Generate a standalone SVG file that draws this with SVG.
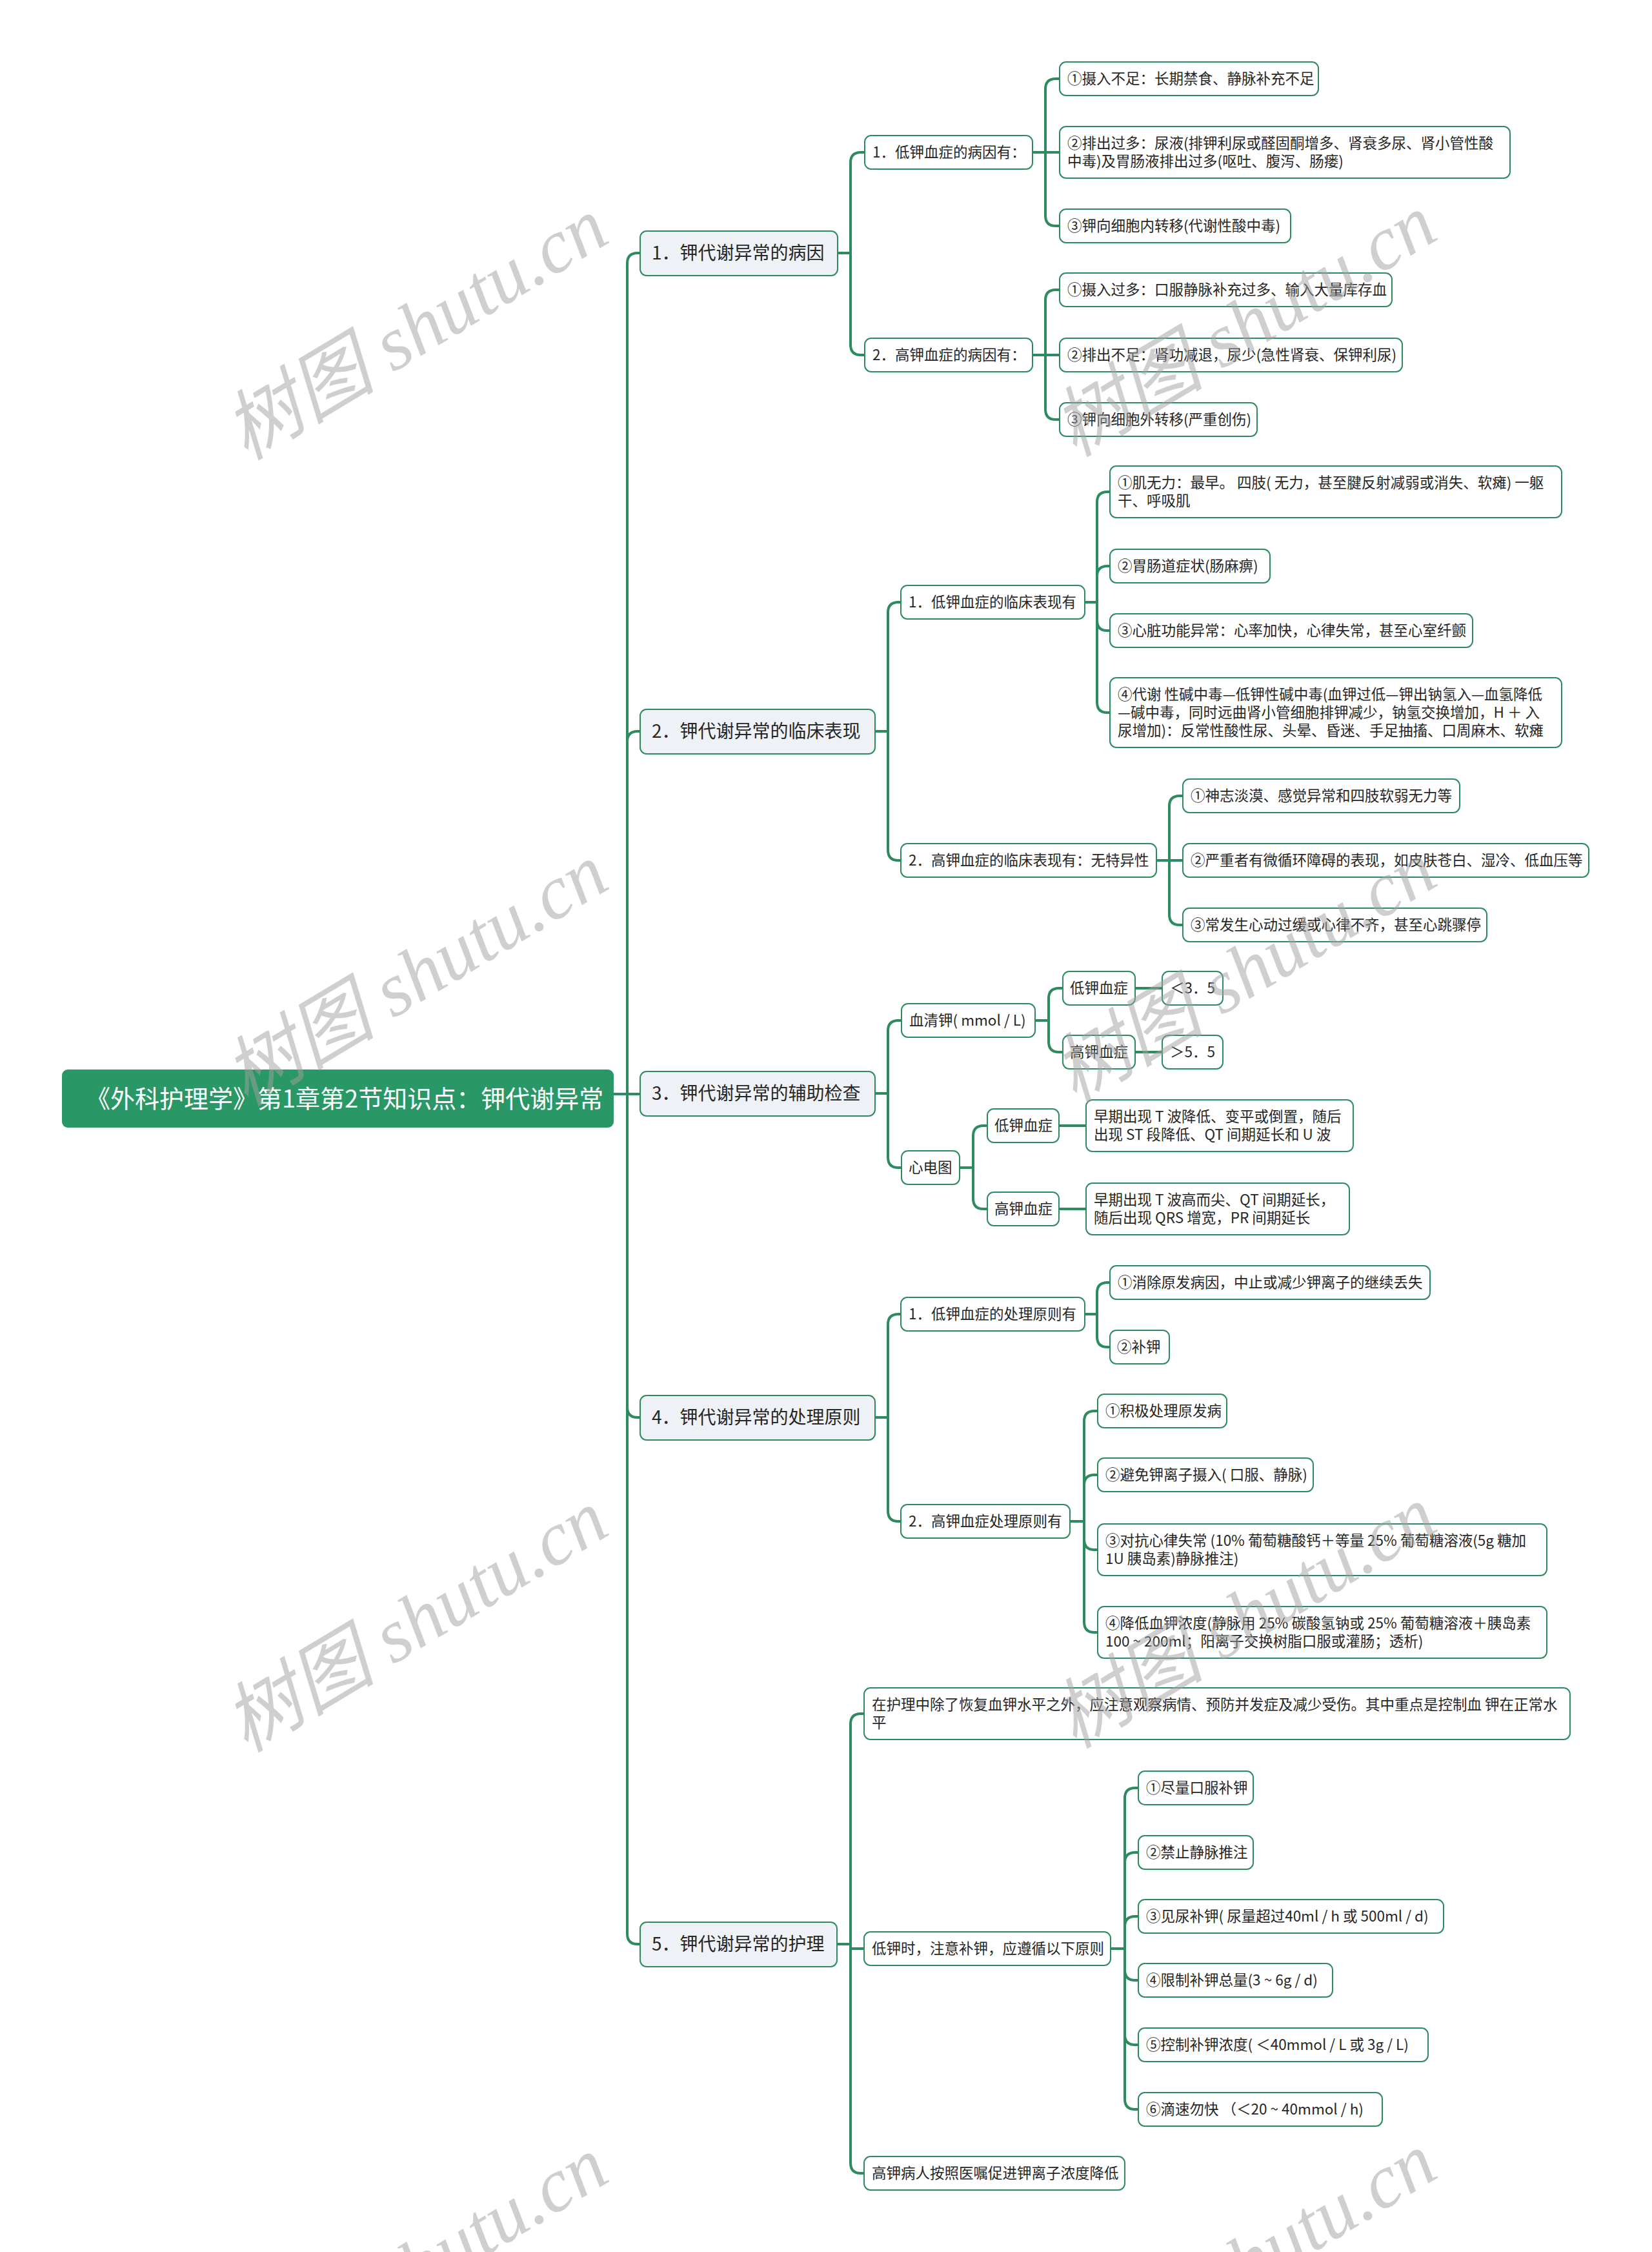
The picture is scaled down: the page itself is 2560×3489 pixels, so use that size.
<svg xmlns="http://www.w3.org/2000/svg" width="2560" height="3489" viewBox="0 0 2560 3489">
<style>
.n rect{fill:#ffffff;stroke:#2e8b5f;stroke-width:2}
.l1 rect{fill:#eef1f5}
.n text{font-family:"Noto Sans CJK SC","Liberation Sans",sans-serif;font-size:22.5px;fill:#262626}
.l1 text{font-size:28px}
#root rect{fill:#2a9866;stroke:none}
#root text{font-size:38px;fill:#ffffff}
.c path{fill:none;stroke:#2e8b5f;stroke-width:4;stroke-linecap:round;stroke-linejoin:round}
.wm text{font-family:"Liberation Serif","Noto Sans CJK SC",serif;font-style:italic;font-size:118px;fill:#a0a0a0;opacity:0.5}
</style>
<rect width="2560" height="3489" fill="#ffffff"/>
<g class="c" id="connectors">
<path d="M951 1695 H972 V408 Q972 392 988 392 H992"/>
<path d="M951 1695 H972 V1149 Q972 1133 988 1133 H992"/>
<path d="M951 1695 H992"/>
<path d="M951 1695 H972 V2180 Q972 2196 988 2196 H992"/>
<path d="M951 1695 H972 V2996 Q972 3012 988 3012 H992"/>
<path d="M1298 392 H1318 V252 Q1318 236 1334 236 H1340"/>
<path d="M1298 392 H1318 V534 Q1318 550 1334 550 H1340"/>
<path d="M1600 236 H1620 V138 Q1620 122 1636 122 H1642"/>
<path d="M1600 236 H1642"/>
<path d="M1600 236 H1620 V334 Q1620 350 1636 350 H1642"/>
<path d="M1600 550 H1620 V465 Q1620 449 1636 449 H1642"/>
<path d="M1600 550 H1642"/>
<path d="M1600 550 H1620 V634 Q1620 650 1636 650 H1642"/>
<path d="M1356 1133 H1376 V949 Q1376 933 1392 933 H1396"/>
<path d="M1356 1133 H1376 V1317 Q1376 1333 1392 1333 H1396"/>
<path d="M1681 933 H1700 V778 Q1700 762 1716 762 H1720"/>
<path d="M1681 933 H1700 V893 Q1700 877 1716 877 H1720"/>
<path d="M1681 933 H1700 V961 Q1700 977 1716 977 H1720"/>
<path d="M1681 933 H1700 V1088 Q1700 1104 1716 1104 H1720"/>
<path d="M1792 1333 H1812 V1249 Q1812 1233 1828 1233 H1833"/>
<path d="M1792 1333 H1833"/>
<path d="M1792 1333 H1812 V1417 Q1812 1433 1828 1433 H1833"/>
<path d="M1356 1694 H1376 V1597 Q1376 1581 1392 1581 H1397"/>
<path d="M1356 1694 H1376 V1793 Q1376 1809 1392 1809 H1397"/>
<path d="M1604 1581 H1625 V1547 Q1625 1531 1641 1531 H1647"/>
<path d="M1604 1581 H1625 V1614 Q1625 1630 1641 1630 H1647"/>
<path d="M1759 1531 H1801"/>
<path d="M1759 1630 H1801"/>
<path d="M1487 1809 H1508 V1760 Q1508 1744 1524 1744 H1530"/>
<path d="M1487 1809 H1508 V1857 Q1508 1873 1524 1873 H1530"/>
<path d="M1641 1744 H1683"/>
<path d="M1641 1873 H1683"/>
<path d="M1356 2196 H1376 V2052 Q1376 2036 1392 2036 H1396"/>
<path d="M1356 2196 H1376 V2341 Q1376 2357 1392 2357 H1396"/>
<path d="M1681 2036 H1700 V2003 Q1700 1987 1716 1987 H1720"/>
<path d="M1681 2036 H1700 V2071 Q1700 2087 1716 2087 H1720"/>
<path d="M1658 2357 H1680 V2202 Q1680 2186 1696 2186 H1701"/>
<path d="M1658 2357 H1680 V2301 Q1680 2285 1696 2285 H1701"/>
<path d="M1658 2357 H1680 V2385 Q1680 2401 1696 2401 H1701"/>
<path d="M1658 2357 H1680 V2513 Q1680 2529 1696 2529 H1701"/>
<path d="M1297 3012 H1318 V2671 Q1318 2655 1334 2655 H1339"/>
<path d="M1297 3012 H1318 V3019 H1339"/>
<path d="M1297 3012 H1318 V3351 Q1318 3367 1334 3367 H1339"/>
<path d="M1721 3019 H1743 V2786 Q1743 2770 1759 2770 H1764"/>
<path d="M1721 3019 H1743 V2886 Q1743 2870 1759 2870 H1764"/>
<path d="M1721 3019 H1743 V2985 Q1743 2969 1759 2969 H1764"/>
<path d="M1721 3019 H1743 V3052 Q1743 3068 1759 3068 H1764"/>
<path d="M1721 3019 H1743 V3152 Q1743 3168 1759 3168 H1764"/>
<path d="M1721 3019 H1743 V3252 Q1743 3268 1759 3268 H1764"/>
</g>
<g id="root" class="n"><rect x="96" y="1657" width="855" height="90" rx="9"/><text x="133" y="1716">《外科护理学》第1章第2节知识点：钾代谢异常</text></g>
<g id="b1" class="n l1"><rect x="992" y="358" width="306" height="69" rx="10"/><text x="1010" y="402">1．钾代谢异常的病因</text></g>
<g id="b1a" class="n"><rect x="1340" y="210" width="260" height="52" rx="10"/><text x="1352" y="244">1．低钾血症的病因有：</text></g>
<g id="b1b" class="n"><rect x="1340" y="524" width="260" height="52" rx="10"/><text x="1352" y="558">2．高钾血症的病因有：</text></g>
<g id="b1a1" class="n"><rect x="1642" y="96" width="401" height="52" rx="10"/><text x="1654" y="130">①摄入不足：长期禁食、静脉补充不足</text></g>
<g id="b1a2" class="n"><rect x="1642" y="196" width="698" height="80" rx="10"/><text x="1654" y="230">②排出过多：尿液(排钾利尿或醛固酮增多、肾衰多尿、肾小管性酸</text><text x="1654" y="258">中毒)及胃肠液排出过多(呕吐、腹泻、肠瘘)</text></g>
<g id="b1a3" class="n"><rect x="1642" y="324" width="358" height="52" rx="10"/><text x="1654" y="358">③钾向细胞内转移(代谢性酸中毒)</text></g>
<g id="b1b1" class="n"><rect x="1642" y="423" width="515" height="52" rx="10"/><text x="1654" y="457">①摄入过多：口服静脉补充过多、输入大量库存血</text></g>
<g id="b1b2" class="n"><rect x="1642" y="524" width="531" height="52" rx="10"/><text x="1654" y="558">②排出不足：肾功减退，尿少(急性肾衰、保钾利尿)</text></g>
<g id="b1b3" class="n"><rect x="1642" y="624" width="306" height="52" rx="10"/><text x="1654" y="658">③钾向细胞外转移(严重创伤)</text></g>
<g id="b2" class="n l1"><rect x="992" y="1099" width="364" height="69" rx="10"/><text x="1010" y="1143">2．钾代谢异常的临床表现</text></g>
<g id="b2a" class="n"><rect x="1396" y="907" width="285" height="52" rx="10"/><text x="1408" y="941">1．低钾血症的临床表现有</text></g>
<g id="b2b" class="n"><rect x="1396" y="1307" width="396" height="52" rx="10"/><text x="1408" y="1341">2．高钾血症的临床表现有：无特异性</text></g>
<g id="b2a1" class="n"><rect x="1720" y="722" width="700" height="80" rx="10"/><text x="1732" y="756">①肌无力：最早。 四肢( 无力，甚至腱反射减弱或消失、软瘫) 一躯</text><text x="1732" y="784">干、呼吸肌</text></g>
<g id="b2a2" class="n"><rect x="1720" y="851" width="248" height="52" rx="10"/><text x="1732" y="885">②胃肠道症状(肠麻痹)</text></g>
<g id="b2a3" class="n"><rect x="1720" y="951" width="562" height="52" rx="10"/><text x="1732" y="985">③心脏功能异常：心率加快，心律失常，甚至心室纤颤</text></g>
<g id="b2a4" class="n"><rect x="1720" y="1050" width="700" height="108" rx="10"/><text x="1732" y="1084">④代谢 性碱中毒—低钾性碱中毒(血钾过低—钾出钠氢入—血氢降低</text><text x="1732" y="1112">—碱中毒，同时远曲肾小管细胞排钾减少，钠氢交换增加，H ＋ 入</text><text x="1732" y="1140">尿增加)：反常性酸性尿、头晕、昏迷、手足抽搐、口周麻木、软瘫</text></g>
<g id="b2b1" class="n"><rect x="1833" y="1207" width="429" height="52" rx="10"/><text x="1845" y="1241">①神志淡漠、感觉异常和四肢软弱无力等</text></g>
<g id="b2b2" class="n"><rect x="1833" y="1307" width="629" height="52" rx="10"/><text x="1845" y="1341">②严重者有微循环障碍的表现，如皮肤苍白、湿冷、低血压等</text></g>
<g id="b2b3" class="n"><rect x="1833" y="1407" width="471" height="52" rx="10"/><text x="1845" y="1441">③常发生心动过缓或心律不齐，甚至心跳骤停</text></g>
<g id="b3" class="n l1"><rect x="992" y="1660" width="364" height="69" rx="10"/><text x="1010" y="1704">3．钾代谢异常的辅助检查</text></g>
<g id="b3a" class="n"><rect x="1397" y="1555" width="207" height="52" rx="10"/><text x="1409" y="1589">血清钾( mmol / L)</text></g>
<g id="b3b" class="n"><rect x="1397" y="1783" width="90" height="52" rx="10"/><text x="1408" y="1817">心电图</text></g>
<g id="b3a1" class="n"><rect x="1647" y="1505" width="112" height="52" rx="10"/><text x="1658" y="1539">低钾血症</text></g>
<g id="b3a1v" class="n"><rect x="1801" y="1505" width="94" height="52" rx="10"/><text x="1848" y="1539" text-anchor="middle">＜3．5</text></g>
<g id="b3a2" class="n"><rect x="1647" y="1604" width="112" height="52" rx="10"/><text x="1658" y="1638">高钾血症</text></g>
<g id="b3a2v" class="n"><rect x="1801" y="1604" width="94" height="52" rx="10"/><text x="1848" y="1638" text-anchor="middle">＞5．5</text></g>
<g id="b3b1" class="n"><rect x="1530" y="1718" width="111" height="52" rx="10"/><text x="1541" y="1752">低钾血症</text></g>
<g id="b3b1v" class="n"><rect x="1683" y="1704" width="414" height="80" rx="10"/><text x="1695" y="1738">早期出现 T 波降低、变平或倒置，随后</text><text x="1695" y="1766">出现 ST 段降低、QT 间期延长和 U 波</text></g>
<g id="b3b2" class="n"><rect x="1530" y="1847" width="111" height="52" rx="10"/><text x="1541" y="1881">高钾血症</text></g>
<g id="b3b2v" class="n"><rect x="1683" y="1833" width="408" height="80" rx="10"/><text x="1695" y="1867">早期出现 T 波高而尖、QT 间期延长，</text><text x="1695" y="1895">随后出现 QRS 增宽，PR 间期延长</text></g>
<g id="b4" class="n l1"><rect x="992" y="2162" width="364" height="69" rx="10"/><text x="1010" y="2206">4．钾代谢异常的处理原则</text></g>
<g id="b4a" class="n"><rect x="1396" y="2010" width="285" height="52" rx="10"/><text x="1408" y="2044">1．低钾血症的处理原则有</text></g>
<g id="b4b" class="n"><rect x="1396" y="2331" width="262" height="52" rx="10"/><text x="1408" y="2365">2．高钾血症处理原则有</text></g>
<g id="b4a1" class="n"><rect x="1720" y="1961" width="496" height="52" rx="10"/><text x="1732" y="1995">①消除原发病因，中止或减少钾离子的继续丢失</text></g>
<g id="b4a2" class="n"><rect x="1720" y="2061" width="92" height="52" rx="10"/><text x="1731" y="2095">②补钾</text></g>
<g id="b4b1" class="n"><rect x="1701" y="2160" width="200" height="52" rx="10"/><text x="1713" y="2194">①积极处理原发病</text></g>
<g id="b4b2" class="n"><rect x="1701" y="2259" width="334" height="52" rx="10"/><text x="1713" y="2293">②避免钾离子摄入( 口服、静脉)</text></g>
<g id="b4b3" class="n"><rect x="1701" y="2361" width="696" height="80" rx="10"/><text x="1713" y="2395">③对抗心律失常 (10% 葡萄糖酸钙＋等量 25% 葡萄糖溶液(5g 糖加</text><text x="1713" y="2423">1U 胰岛素)静脉推注)</text></g>
<g id="b4b4" class="n"><rect x="1701" y="2489" width="696" height="80" rx="10"/><text x="1713" y="2523">④降低血钾浓度(静脉用 25% 碳酸氢钠或 25% 葡萄糖溶液＋胰岛素</text><text x="1713" y="2551">100 ~ 200ml；阳离子交换树脂口服或灌肠；透析)</text></g>
<g id="b5" class="n l1"><rect x="992" y="2978" width="305" height="69" rx="10"/><text x="1010" y="3022">5．钾代谢异常的护理</text></g>
<g id="b5a" class="n"><rect x="1339" y="2615" width="1094" height="80" rx="10"/><text x="1351" y="2649">在护理中除了恢复血钾水平之外，应注意观察病情、预防并发症及减少受伤。其中重点是控制血 钾在正常水</text><text x="1351" y="2677">平</text></g>
<g id="b5b" class="n"><rect x="1339" y="2993" width="382" height="52" rx="10"/><text x="1351" y="3027">低钾时，注意补钾，应遵循以下原则</text></g>
<g id="b5c" class="n"><rect x="1339" y="3341" width="404" height="52" rx="10"/><text x="1351" y="3375">高钾病人按照医嘱促进钾离子浓度降低</text></g>
<g id="b5b1" class="n"><rect x="1764" y="2744" width="178" height="52" rx="10"/><text x="1776" y="2778">①尽量口服补钾</text></g>
<g id="b5b2" class="n"><rect x="1764" y="2844" width="178" height="52" rx="10"/><text x="1776" y="2878">②禁止静脉推注</text></g>
<g id="b5b3" class="n"><rect x="1764" y="2943" width="473" height="52" rx="10"/><text x="1776" y="2977">③见尿补钾( 尿量超过40ml / h 或 500ml / d)</text></g>
<g id="b5b4" class="n"><rect x="1764" y="3042" width="301" height="52" rx="10"/><text x="1776" y="3076">④限制补钾总量(3 ~ 6g / d)</text></g>
<g id="b5b5" class="n"><rect x="1764" y="3142" width="449" height="52" rx="10"/><text x="1776" y="3176">⑤控制补钾浓度( ＜40mmol / L 或 3g / L)</text></g>
<g id="b5b6" class="n"><rect x="1764" y="3242" width="378" height="52" rx="10"/><text x="1776" y="3276">⑥滴速勿快 （＜20 ~ 40mmol / h)</text></g>
<g class="wm" id="watermarks">
<text x="646" y="549" text-anchor="middle" transform="rotate(-31 646 512)">树图 shutu.cn</text>
<text x="646" y="1550" text-anchor="middle" transform="rotate(-31 646 1513)">树图 shutu.cn</text>
<text x="646" y="2551" text-anchor="middle" transform="rotate(-31 646 2514)">树图 shutu.cn</text>
<text x="646" y="3553" text-anchor="middle" transform="rotate(-31 646 3516)">树图 shutu.cn</text>
<text x="1930" y="544" text-anchor="middle" transform="rotate(-31 1930 507)">树图 shutu.cn</text>
<text x="1930" y="1545" text-anchor="middle" transform="rotate(-31 1930 1508)">树图 shutu.cn</text>
<text x="1930" y="2545" text-anchor="middle" transform="rotate(-31 1930 2508)">树图 shutu.cn</text>
<text x="1930" y="3547" text-anchor="middle" transform="rotate(-31 1930 3510)">树图 shutu.cn</text>
</g>
</svg>
